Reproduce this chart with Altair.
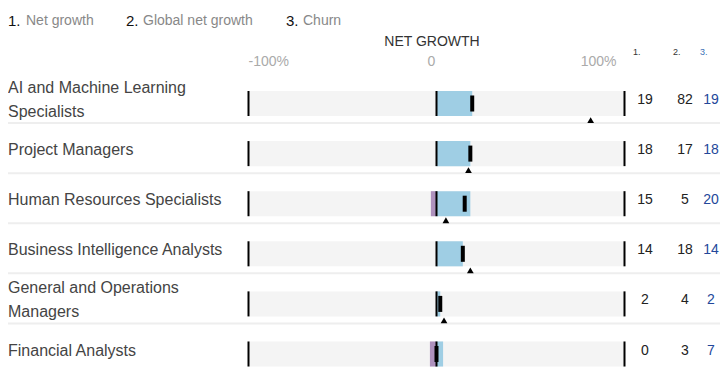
import altair as alt
import pandas as pd

categories = [
    "AI and Machine Learning Specialists",
    "Project Managers",
    "Human Resources Specialists",
    "Business Intelligence Analysts",
    "General and Operations Managers",
    "Financial Analysts",
]
labels = [
    "AI and Machine Learning\nSpecialists",
    "Project Managers",
    "Human Resources Specialists",
    "Business Intelligence Analysts",
    "General and Operations\nManagers",
    "Financial Analysts",
]
growth = [19, 18, 18, 14, 2, 3.5]
decline = [0, 0, -3, 0, 0, -3.5]
net_growth = [19, 18, 15, 14, 2, 0]
global_net_growth = [82, 17, 5, 18, 4, 3]
churn = [19, 18, 20, 14, 2, 7]

tick_values = [-100, 0, 100]
tick_labels = ["-100%", "0", "100%"]
legend_nums = ["1.", "2.", "3."]
legend_names = ["Net growth", "Global net growth", "Churn"]

FONT = "Liberation Sans"
W, H = 712, 359

df = pd.DataFrame({
    "category": categories,
    "label": labels,
    "nlines": [l.count("\n") + 1 for l in labels],
    "row": list(range(len(categories))),
    "growth": growth,
    "decline": decline,
    "net": net_growth,
    "global_net": global_net_growth,
    "churn": churn,
})

xscale = alt.Scale(domain=[-100, 100], range=[240.5, 616.5])
yscale = alt.Scale(domain=[0, 5], range=[95.5, 346])

base = alt.Chart(df).transform_calculate(
    y0="datum.row - 0.25",
    y1="datum.row + 0.25",
    t0="datum.row - 0.16",
    t1="datum.row + 0.16",
    tri="datum.row + 0.33",
    sep="datum.row + 0.39",
    laby="datum.row - (datum.nlines - 1) * 0.24",
    lo="-100",
    hi="100",
    zero="0",
)

Y = lambda f: alt.Y(f, type="quantitative", scale=yscale, axis=None)
X = lambda f: alt.X(f, type="quantitative", scale=xscale, axis=None)

sep = base.mark_rule(color="#eeeeee", strokeWidth=2).encode(
    y=Y("sep"), x=alt.value(0), x2=alt.value(W)
)
bg = base.mark_rect(color="#f4f4f4").encode(x=X("lo"), x2="hi:Q", y=Y("y0"), y2="y1:Q")
dec = base.mark_rect(color="#ae91bd").encode(x=X("decline"), x2="zero:Q", y=Y("y0"), y2="y1:Q")
gro = base.mark_rect(color="#9fcee4").encode(x=X("zero"), x2="growth:Q", y=Y("y0"), y2="y1:Q")

edges_df = pd.DataFrame([(r, v) for r in range(len(categories)) for v in tick_values], columns=["row", "edge"])
edges = alt.Chart(edges_df).transform_calculate(
    y0="datum.row - 0.25", y1="datum.row + 0.25"
).mark_rule(color="black", strokeWidth=2).encode(x=X("edge"), y=Y("y0"), y2="y1:Q")

tick = base.mark_rule(color="black", strokeWidth=4).encode(x=X("net"), y=Y("t0"), y2="t1:Q")
tri = base.mark_point(shape="triangle-up", filled=True, color="black", size=45, opacity=1).encode(
    x=X("global_net"), y=Y("tri")
)

lab = base.mark_text(align="left", baseline="middle", font=FONT, fontSize=16, color="#444444",
                     lineBreak="\n", lineHeight=24, dy=-3.5).encode(
    x=alt.value(0), y=Y("laby"), text="label:N"
)
num_layers = []
for field, xpos, col in [("net", 637, "#222222"), ("global_net", 677, "#222222"), ("churn", 703, "#23479a")]:
    num_layers.append(
        base.mark_text(align="center", baseline="middle", font=FONT, fontSize=14, color=col, dy=-3.5).encode(
            x=alt.value(xpos), y=Y("row"), text=alt.Text(f"{field}:Q")
        )
    )

hdr_df = pd.DataFrame({"t": ["NET GROWTH"]})
hdr = alt.Chart(hdr_df).mark_text(font=FONT, fontSize=14, color="#333333", baseline="middle").encode(
    x=alt.value(424), y=alt.value(33.7), text="t:N"
)
axis_layers = []
for v, t, al, dx in zip(tick_values, tick_labels, ["left", "center", "right"], [0, -5, -8]):
    axis_layers.append(
        alt.Chart(pd.DataFrame({"v": [v], "t": [t]})).mark_text(
            font=FONT, fontSize=14, color="#aaaaaa", align=al, baseline="middle", dx=dx
        ).encode(x=X("v"), y=alt.value(54), text="t:N")
    )
col_layers = []
for t, xpos, col in zip(legend_nums, [625, 665, 692], ["#333333", "#333333", "#3d6fb6"]):
    col_layers.append(
        alt.Chart(pd.DataFrame({"t": [t]})).mark_text(
            font=FONT, fontSize=9, color=col, align="left", baseline="middle"
        ).encode(x=alt.value(xpos), y=alt.value(43.7), text="t:N")
    )
leg_layers = []
for n, name, xn, xl in zip(legend_nums, legend_names, [0, 118, 278], [18, 135, 295]):
    leg_layers.append(
        alt.Chart(pd.DataFrame({"t": [n]})).mark_text(
            font=FONT, fontSize=15, color="#111111", align="left", baseline="middle"
        ).encode(x=alt.value(xn), y=alt.value(13), text="t:N")
    )
    leg_layers.append(
        alt.Chart(pd.DataFrame({"t": [name]})).mark_text(
            font=FONT, fontSize=14, color="#888888", align="left", baseline="middle"
        ).encode(x=alt.value(xl), y=alt.value(13), text="t:N")
    )

chart = alt.layer(
    sep, bg, dec, gro, edges, tick, tri, lab, *num_layers, hdr, *axis_layers, *col_layers, *leg_layers
).properties(
    width=W, height=H, autosize=alt.AutoSizeParams(type="none"), padding=0
).configure_view(stroke=None)

chart.save("out.html", embed_options={"renderer": "svg", "actions": False})
